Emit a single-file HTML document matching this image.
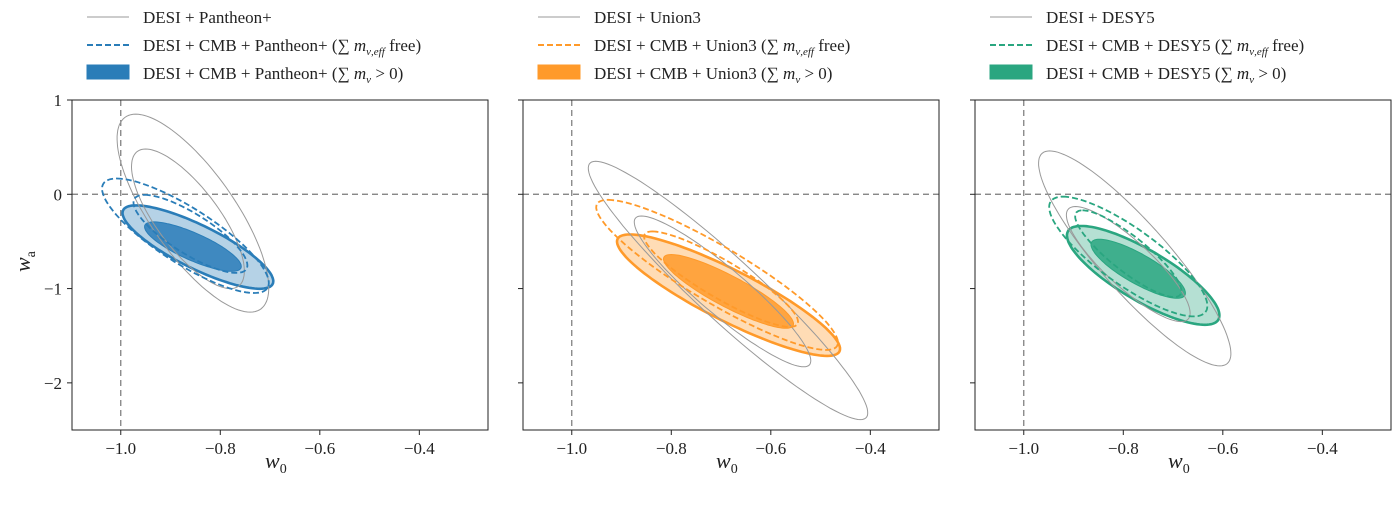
<!DOCTYPE html>
<html><head><meta charset="utf-8"><style>
body{margin:0;background:#fff;width:1400px;height:500px;overflow:hidden;font-family:"Liberation Serif",serif}
svg text{font-family:"Liberation Serif",serif;fill:#222}
</style></head><body>
<svg id="chart" width="1400" height="500"></svg>
<script>
// Per-panel contour data: center (w0, wa), half-major vector (dw0, dwa), horizontal half-width (w0 units)
const panelNames = ["pantheon", "union3", "desy5"];
const panelColors = ["#2a7db8", "#ff9a2a", "#2aa680"];
const panelLegends = [
  ["DESI + Pantheon+", "DESI + CMB + Pantheon+", "DESI + CMB + Pantheon+"],
  ["DESI + Union3", "DESI + CMB + Union3", "DESI + CMB + Union3"],
  ["DESI + DESY5", "DESI + CMB + DESY5", "DESI + CMB + DESY5"]
];
// contour order: gray95, gray68, dashed95, dashed68, filled95, filled68
const contourCx = [
  [-0.855, -0.865, -0.87, -0.86, -0.845, -0.855],
  [-0.686, -0.697, -0.708, -0.70, -0.685, -0.685],
  [-0.777, -0.79, -0.79, -0.79, -0.76, -0.77]
];
const contourCy = [
  [-0.2, -0.26, -0.44, -0.42, -0.56, -0.555],
  [-1.02, -1.03, -0.855, -0.9, -1.07, -1.03],
  [-0.68, -0.74, -0.66, -0.63, -0.86, -0.79]
];
const contourAx = [
  [-0.115, -0.085, -0.138, -0.092, -0.124, -0.078],
  [-0.266, -0.163, -0.219, -0.138, -0.198, -0.115],
  [-0.171, -0.106, -0.131, -0.092, -0.124, -0.078]
];
const contourAy = [
  [1.05, 0.74, 0.607, 0.414, 0.442, 0.262],
  [1.37, 0.8, 0.796, 0.506, 0.644, 0.391],
  [1.14, 0.61, 0.635, 0.46, 0.524, 0.313]
];
const contourBw = [
  [0.1, 0.075, 0.095, 0.068, 0.087, 0.058],
  [0.09, 0.07, 0.105, 0.07, 0.105, 0.062],
  [0.09, 0.065, 0.09, 0.054, 0.09, 0.054]
];
const xTicks = [-1.0, -0.8, -0.6, -0.4];
const xTickLabels = ["\u22121.0", "\u22120.8", "\u22120.6", "\u22120.4"];
const yTicks = [1, 0, -1, -2];
const yTickLabels = ["1", "0", "\u22121", "\u22122"];
const xMin = -1.098, xMax = -0.262, yMin = -2.5, yMax = 1;

const NS = "http://www.w3.org/2000/svg";
const svg = document.getElementById("chart");
function mk(tag, attrs, parent) {
  const e = document.createElementNS(NS, tag);
  for (const k in attrs) e.setAttribute(k, attrs[k]);
  (parent || svg).appendChild(e);
  return e;
}
const panelLeft = [72, 523, 975], panelW = 416, plotTop = 100, plotBottom = 430;

panelNames.forEach((pn, p) => {
  const L = panelLeft[p];
  const g = mk("g", {});
  
  
  const X = v => L + (v - xMin) / (xMax - xMin) * panelW;
  const Y = v => plotTop + (yMax - v) / (yMax - yMin) * (plotBottom - plotTop);
  const col = panelColors[p];
  const ell = i => {
    let d = "";
    for (let k = 0; k <= 120; k++) {
      const t = k / 120 * 2 * Math.PI;
      const w0 = contourCx[p][i] + contourAx[p][i] * Math.cos(t) + contourBw[p][i] * Math.sin(t);
      const wa = contourCy[p][i] + contourAy[p][i] * Math.cos(t);
      d += (k ? "L" : "M") + X(w0).toFixed(1) + "," + Y(wa).toFixed(1);
    }
    return d + "Z";
  };
  const clip = mk("clipPath", { id: "clip" + p }, g);
  mk("rect", { x: L, y: plotTop, width: panelW, height: plotBottom - plotTop }, clip);
  const cg = mk("g", { "clip-path": "url(#clip" + p + ")" }, g);
  const rv = mk("line", { x1: X(-1), x2: X(-1), y1: plotTop, y2: plotBottom, stroke: "#777", "stroke-dasharray": "6,4", "stroke-width": 1.2 }, cg);
  
  
  const rh = mk("line", { x1: L, x2: L + panelW, y1: Y(0), y2: Y(0), stroke: "#777", "stroke-dasharray": "6,4", "stroke-width": 1.2 }, cg);
  
  
  const f95 = mk("path", { d: ell(4), fill: col, "fill-opacity": 0.35, stroke: col, "stroke-width": 2.6 }, cg);
  
  
  const f68 = mk("path", { d: ell(5), fill: col, "fill-opacity": 0.85, stroke: col, "stroke-width": 1 }, cg);
  
  
  [0, 1].forEach(i => {
    const e = mk("path", { d: ell(i), fill: "none", stroke: "#999", "stroke-width": 1 }, cg);
    
    
  });
  [2, 3].forEach(i => {
    const e = mk("path", { d: ell(i), fill: "none", stroke: col, "stroke-width": 1.8, "stroke-dasharray": "6,3" }, cg);
    
    
  });
  const fr = mk("rect", { x: L, y: plotTop, width: panelW, height: plotBottom - plotTop, fill: "none", stroke: "#222", "stroke-width": 1 }, g);
  
  
  xTicks.forEach((v, i) => {
    mk("line", { x1: X(v), x2: X(v), y1: plotBottom, y2: plotBottom + 5, stroke: "#222" }, g);
    const t = mk("text", { x: X(v), y: plotBottom + 24, "text-anchor": "middle", "font-size": 17 }, g);
    t.textContent = xTickLabels[i];
    
    
  });
  yTicks.forEach((v, i) => {
    mk("line", { x1: L - 5, x2: L, y1: Y(v), y2: Y(v), stroke: "#222" }, g);
    if (p === 0) {
      const t = mk("text", { x: L - 10, y: Y(v) + 6, "text-anchor": "end", "font-size": 17 }, g);
      t.textContent = yTickLabels[i];
      
      
    }
  });
  const xl = mk("text", { x: L + panelW / 2 - 15, y: 468, "font-size": 22, "font-style": "italic" }, g);
  xl.innerHTML = 'w<tspan font-size="14" dy="5" font-style="normal">0</tspan>';
  
  
  const lg = mk("g", {}, g);
  
  
  const lx = L + 15;
  const labels = panelLegends[p];
  mk("line", { x1: lx, x2: lx + 42, y1: 17, y2: 17, stroke: "#999", "stroke-width": 1 }, lg);
  mk("line", { x1: lx, x2: lx + 42, y1: 45, y2: 45, stroke: col, "stroke-width": 2, "stroke-dasharray": "6,3" }, lg);
  mk("rect", { x: lx, y: 65, width: 42, height: 14, fill: col, stroke: col }, lg);
  const t1 = mk("text", { x: lx + 56, y: 23, "font-size": 17 }, lg);
  t1.textContent = labels[0];
  
  
  const t2 = mk("text", { x: lx + 56, y: 51, "font-size": 17 }, lg);
  t2.innerHTML = labels[1] + ' (\u2211 <tspan font-style="italic">m</tspan><tspan font-size="11" dy="4" font-style="italic">\u03bd,eff</tspan><tspan dy="-4"> free)</tspan>';
  
  
  const t3 = mk("text", { x: lx + 56, y: 79, "font-size": 17 }, lg);
  t3.innerHTML = labels[2] + ' (\u2211 <tspan font-style="italic">m</tspan><tspan font-size="11" dy="4" font-style="italic">\u03bd</tspan><tspan dy="-4"> &gt; 0)</tspan>';
  
  
});
const yl = mk("text", { x: 30, y: 272, "font-size": 22, "font-style": "italic", transform: "rotate(-90 30 272)" });
yl.innerHTML = 'w<tspan font-size="14" dy="5" font-style="normal">a</tspan>';


</script>
</body></html>
